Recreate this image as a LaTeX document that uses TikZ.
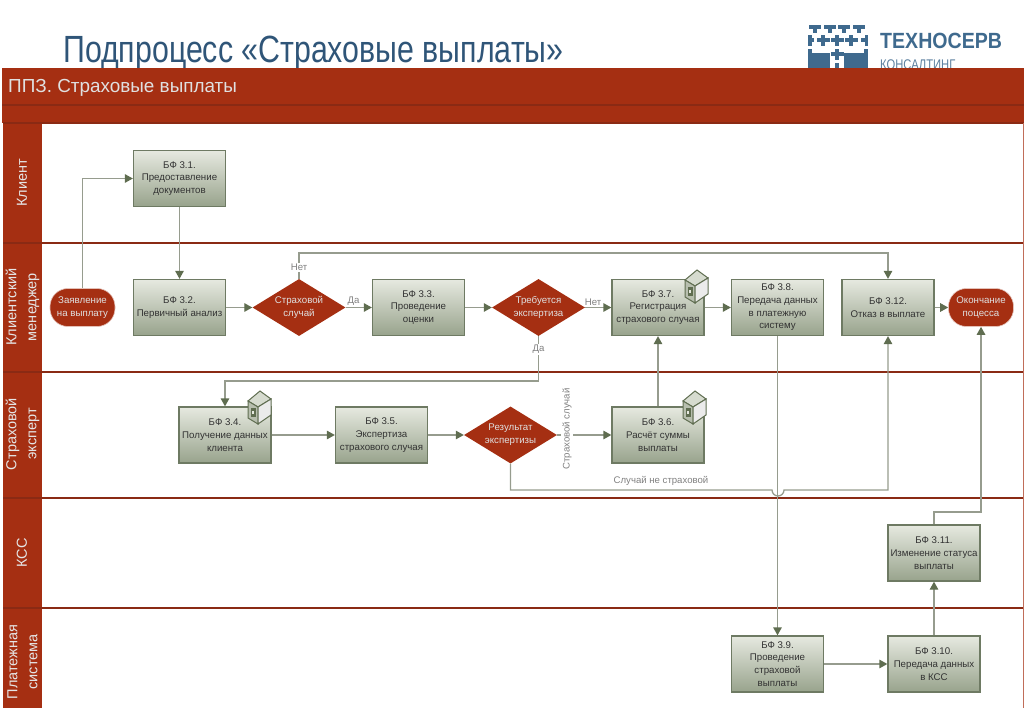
\documentclass[tikz,border=0pt]{standalone}
\usepackage{fontspec}
\setmainfont{Liberation Sans}
\newfontfamily\narrowfont[FakeStretch=0.80]{Liberation Sans}
\newfontfamily\logofont[FakeStretch=0.89]{Liberation Sans}
\usetikzlibrary{arrows.meta,shapes.geometric}
\definecolor{bandred}{HTML}{A52F12}
\definecolor{darkred}{HTML}{8A2A14}
\definecolor{boxedge}{HTML}{6E7A63}
\definecolor{boxtop}{HTML}{E6E9E0}
\definecolor{boxbot}{HTML}{98A38C}
\definecolor{linegray}{HTML}{969C8E}
\definecolor{tipgreen}{HTML}{5F6D50}
\definecolor{titleblue}{HTML}{2F5578}
\definecolor{logoblue}{HTML}{3F6A8E}
\tikzset{
	stepbox/.style={rectangle, draw=boxedge, line width=1.3pt, top color=boxtop, bottom color=boxbot, minimum width=92pt, minimum height=56pt, inner sep=0pt, align=center, font=\fontsize{9.7}{12.7}\selectfont, text=black!80},
	gate/.style={diamond, fill=bandred, minimum width=93pt, minimum height=57pt, inner sep=0pt, aspect=1.63, align=center, font=\fontsize{9.7}{12.7}\selectfont, text=white!88!black},
	term/.style={rectangle, rounded corners=18pt, fill=bandred, draw=white!70!bandred, line width=.6pt, minimum width=65pt, minimum height=38pt, inner sep=0pt, align=center, font=\fontsize{9.7}{12.7}\selectfont, text=white!88!black},
	lane/.style={rotate=90, align=center, text=white!90!black, font=\fontsize{14.5}{20}\selectfont},
	tag/.style={text=black!50, font=\fontsize{9.6}{11}\selectfont, inner sep=1pt},
	flow/.style={draw=linegray, line width=1.3pt, -{Triangle[length=8pt,width=8.5pt,color=tipgreen]}},
	logobar/.style={fill=logoblue},
	server/.pic={
		\fill[boxtop!80!boxbot, draw=tipgreen, line width=1pt] (0,10) -- (12,0) -- (23,8) -- (10,16) -- cycle;
		\fill[boxbot!70!white, draw=tipgreen, line width=1pt] (0,10) -- (10,16) -- (10,33) -- (0,27) -- cycle;
		\fill[black!8, draw=tipgreen, line width=1pt] (10,16) -- (23,8) -- (23,24) -- (10,33) -- cycle;
		\fill[tipgreen] (2.5,17) rectangle (7.5,26);
		\fill[boxtop] (4,20) rectangle (6,23);
	}
}
\begin{document}
\begin{tikzpicture}[x=1pt, y=-1pt]
	\useasboundingbox (0,0) rectangle (1024,708);
	\node[anchor=base west, inner sep=0pt, text=titleblue, font=\fontsize{37.9}{40}\selectfont\narrowfont] (Title) at (63,63) {Подпроцесс «Страховые выплаты»};

	% logo
	\foreach \x in {815,830,844,859} {
		\fill[logobar] (\x-6,25) rectangle (\x+6,29);
		\fill[logobar] (\x-1.8,29) rectangle (\x+1.8,33);
	}
	\foreach \x in {823,837,851} {
		\fill[logobar] (\x-6.5,38.5) rectangle (\x+6.5,42.5);
		\fill[logobar] (\x-2,35) rectangle (\x+2,46);
	}
	\fill[logobar] (808,38.5) rectangle (814,42.5);
	\fill[logobar] (808,35) rectangle (811.5,46);
	\fill[logobar] (861,38.5) rectangle (868,42.5);
	\fill[logobar] (864.5,35) rectangle (868,46);
	\fill[logobar] (808,49) rectangle (812,68);
	\fill[logobar] (808,53) rectangle (830,68);
	\fill[logobar] (844,53) rectangle (868,68);
	\fill[logobar] (864,49) rectangle (868,68);
	\fill[logobar] (830.5,52.5) rectangle (843.5,56.5);
	\fill[logobar] (835,49) rectangle (839,60);
	\fill[logobar] (835,63) rectangle (839,68);
	\node[anchor=base west, inner sep=0pt, text=logoblue, font=\fontsize{22}{24}\selectfont\bfseries\logofont] (Logo) at (880,49) {ТЕХНОСЕРВ};
	\node[anchor=base west, inner sep=0pt, text=logoblue!85!white, font=\fontsize{14}{16}\selectfont\narrowfont] (Sub) at (880,70) {КОНСАЛТИНГ};

	% swimlanes
	\fill[bandred] (2,68) rectangle (1024,123);
	\fill[darkred] (2,104) rectangle (1024,106);
	\fill[bandred] (3,123) rectangle (42,708);
	\draw[darkred, line width=1.7pt] (3,123) -- (1024,123);
	\draw[darkred, line width=1.7pt] (3,243) -- (1024,243);
	\draw[darkred, line width=1.7pt] (3,372) -- (1024,372);
	\draw[darkred, line width=1.7pt] (3,498) -- (1024,498);
	\draw[darkred, line width=1.7pt] (3,608) -- (1024,608);
	\draw[bandred!70!white, line width=.5pt] (1023.7,123) -- (1023.7,708);
	\node[anchor=base west, inner sep=0pt, text=white!88!black, font=\fontsize{18.9}{20}\selectfont] (Head) at (8,93) {ППЗ. Страховые выплаты};
	\node[lane] (L1) at (22,183) {Клиент};
	\node[lane] (L2) at (22.5,307) {Клиентский\\менеджер};
	\node[lane] (L3) at (22.5,434) {Страховой\\эксперт};
	\node[lane] (L4) at (22,553) {КСС};
	\node[lane] (L5) at (22.5,662) {Платежная\\система};

	% nodes
	\node[term] (Start) at (82.5,307.5) {Заявление\\на выплату};
	\node[stepbox] (B31) at (179.5,178.5) {БФ 3.1.\\Предоставление\\документов};
	\node[stepbox] (B32) at (179.5,307.5) {БФ 3.2.\\Первичный анализ};
	\node[gate] (D1) at (299,307.5) {Страховой\\случай};
	\node[stepbox] (B33) at (418.5,307.5) {БФ 3.3.\\Проведение\\оценки};
	\node[gate] (D2) at (538.5,307.5) {Требуется\\экспертиза};
	\node[stepbox] (B37) at (658,307.5) {БФ 3.7.\\Регистрация\\страхового случая};
	\node[stepbox] (B38) at (777.5,307.5) {БФ 3.8.\\Передача данных\\в платежную\\систему};
	\node[stepbox] (B312) at (888,307.5) {БФ 3.12.\\Отказ в выплате};
	\node[term] (End) at (981,307.5) {Окончание\\поцесса};
	\node[stepbox] (B34) at (225,435) {БФ 3.4.\\Получение данных\\клиента};
	\node[stepbox] (B35) at (381.5,435) {БФ 3.5.\\Экспертиза\\страхового случая};
	\node[gate] (D3) at (510.5,435) {Результат\\экспертизы};
	\node[stepbox] (B36) at (658,435) {БФ 3.6.\\Расчёт суммы\\выплаты};
	\node[stepbox] (B311) at (934,553) {БФ 3.11.\\Изменение статуса\\выплаты};
	\node[stepbox] (B39) at (777.5,664) {БФ 3.9.\\Проведение\\страховой\\выплаты};
	\node[stepbox] (B310) at (934,664) {БФ 3.10.\\Передача данных\\в КСС};

	\pic at (685,270) {server};
	\pic at (683,391) {server};
	\pic at (248,391) {server};

	% bends
	\coordinate (NoTop) at (299,253);
	\coordinate (YesLow) at (538.5,381);
	\coordinate (MissL) at (772,490);
	\coordinate (Back) at (981,512);

	% connectors
	\draw[flow] (Start.north) |- (B31.west);
	\draw[flow] (B31) to (B32);
	\draw[flow] (B32) to (D1);
	\draw[flow] (D1) to node[tag, pos=.3, above] {Да} (B33);
	\draw[flow] (B33) to (D2);
	\draw[flow] (D2) to node[tag, pos=.3, above] {Нет} (B37);
	\draw[flow] (B37) to (B38);
	\draw[flow] (D1.north) to node[tag, pos=.45, fill=white] {Нет} (NoTop) -| (B312.north);
	\draw[flow] (D2.south) to node[tag, pos=.3, fill=white] {Да} (YesLow) -| (B34.north);
	\draw[flow] (B312) to (End);
	\draw[flow] (B34) to (B35);
	\draw[flow] (B35) to (D3);
	\draw[flow] (D3) to node[tag, pos=.18, yshift=6pt, rotate=90, fill=white] {Страховой случай} (B36);
	\draw[flow] (B36) to (B37);
	\draw[flow] (D3.south) |- (MissL) arc[start angle=180, end angle=0, radius=6] -| (B312.south);
	\node[tag] (Miss) at (661,481) {Случай не страховой};
	\draw[flow] (B38) to (B39);
	\draw[flow] (B39) to (B310);
	\draw[flow] (B310) to (B311);
	\draw[flow] (B311.north) |- (Back) -- (Back |- End.south);
\end{tikzpicture}
\end{document}
